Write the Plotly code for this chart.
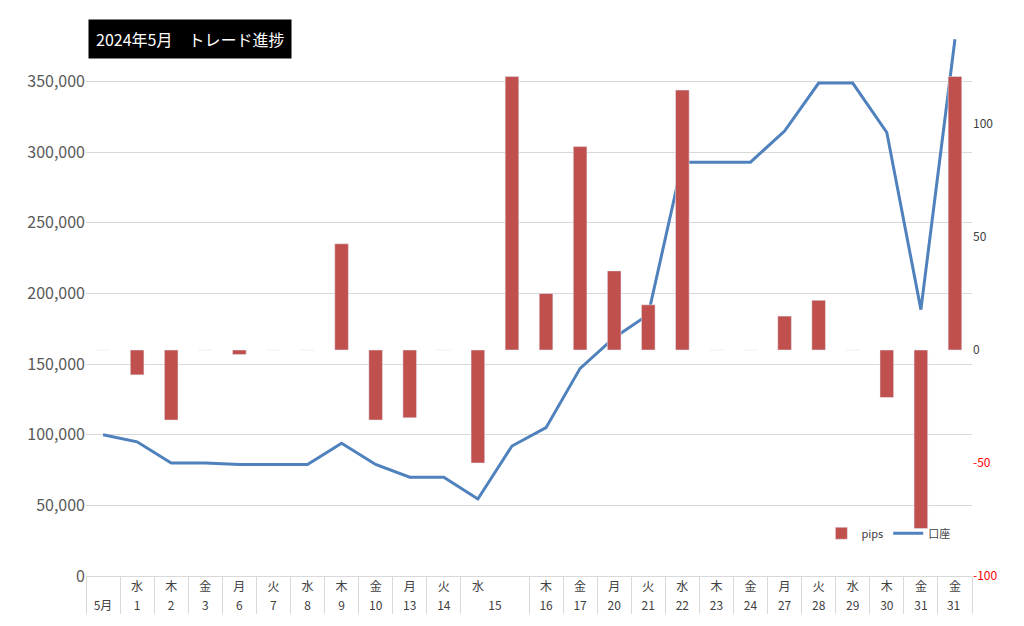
import plotly.graph_objects as go

dates = ["5月","1","2","3","6","7","8","9","10","13","14","15","15","16","17","20","21","22","23","24","27","28","29","30","31","31 "]
weekdays = [" ","水","木","金","月","火","水","木","金","月","火","水","\uFFA0","木","金","月","火","水","木","金","月","火","水","木","金","金"]
pips = [0,-11,-31,0,-2,0,0,47,-31,-30,0,-50,121,25,90,35,20,115,0,0,15,22,0,-21,-79,121]
account = [100000,95000,80000,80000,79000,79000,79000,94000,79000,70000,70000,54500,92000,105000,147000,168700,185000,293000,293000,293000,315000,349000,349000,314000,188600,380000]

x = [dates, weekdays]
fig = go.Figure()
fig.add_trace(go.Bar(x=x, y=pips, name="pips", marker_color="#C0504D", yaxis="y2"))
fig.add_trace(go.Scatter(x=x, y=account, name="口座", mode="lines", line=dict(color="#4F81BD", width=3)))

right_vals = [-100,-50,0,50,100,150]
right_text = ["<span style='color:red'>-100</span>","<span style='color:red'>-50</span>","0","50","100","150"]

fig.update_layout(
    width=1024, height=626, margin=dict(l=78, r=60, t=3, b=58),
    paper_bgcolor="white", plot_bgcolor="white",
    font=dict(family="Noto Sans CJK JP, Liberation Sans", color="#595959"),
    bargap=0.6, showlegend=True,
    legend=dict(orientation="h", x=0.83, y=0.05, xanchor="left", yanchor="bottom", font=dict(size=11, color="#404040"), bgcolor="rgba(0,0,0,0)"),
    xaxis=dict(type="multicategory", tickfont=dict(size=12, color="#404040"), showdividers=True, dividercolor="#D9D9D9", showline=True, linecolor="#D9D9D9"),
    yaxis=dict(range=[0,400000], dtick=50000, tickformat=",", gridcolor="#D9D9D9", tickfont=dict(size=16, color="#595959"), zeroline=False),
    yaxis2=dict(overlaying="y", side="right", range=[-100,150], tickvals=right_vals, ticktext=right_text, showgrid=False, zeroline=False, tickfont=dict(size=12, color="#404040")),
    annotations=[dict(xref="paper", yref="paper", x=0.0, y=0.985, xanchor="left", yanchor="top", xshift=2,
                      text="2024年5月　トレード進捗", showarrow=False, bgcolor="black", borderpad=7,
                      font=dict(size=16, color="white", family="Noto Sans CJK JP"))],
)
fig.write_html("out.html")
